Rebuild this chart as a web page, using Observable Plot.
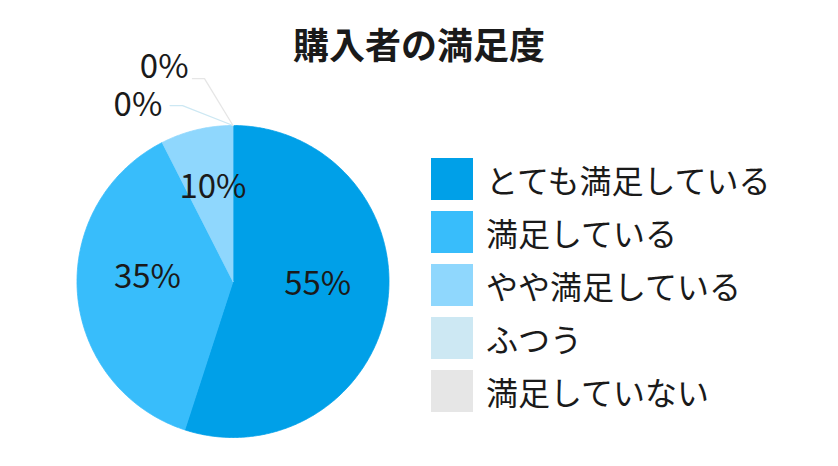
<!DOCTYPE html>
<html><head><meta charset="utf-8">
<script src="https://cdn.jsdelivr.net/npm/d3@7"></script>
<script src="https://cdn.jsdelivr.net/npm/@observablehq/plot@0.6"></script>
<style>
html,body{margin:0;padding:0;background:#fff;}
body{font-family:"Noto Sans CJK JP","Noto Sans",sans-serif;color:#1a1a1a;}
#wrap{position:relative;width:838px;height:466px;overflow:hidden;}
#chart{position:absolute;left:0;top:0;}
#title{position:absolute;left:0;width:838px;top:23px;height:40px;line-height:40px;text-align:center;font-size:36px;font-weight:bold;}
#legend{position:absolute;left:431px;top:158px;width:400px;}
#legend .lg-swatches{font-family:"Noto Sans CJK JP",sans-serif !important;font-size:32px !important;color:#1a1a1a !important;margin:0 !important;columns:1 !important;}
#legend .lg-swatch{display:flex !important;align-items:center !important;margin:0 0 11px 0 !important;padding:0 !important;height:42px;}
#legend .lg-swatch svg{margin-right:13px !important;flex-shrink:0;}
#legend .lg-label{line-height:42px;overflow:visible !important;}
</style></head>
<body><div id="wrap"><div id="chart"></div><div id="title"></div><div id="legend"></div></div>
<script>
const titleText = "購入者の満足度";
const categories = ["とても満足している","満足している","やや満足している","ふつう","満足していない"];
const values = [55, 37.5, 7.5, 0, 0];
const labels = ["55%","35%","10%","0%","0%"];
const colors = ["#00a0e8","#38bdfb","#8fd7fd","#cde8f3","#e6e6e6"];

document.getElementById("title").textContent = titleText;

const total = d3.sum(values);
let acc = 0;
const slices = values.map((v, i) => {
  const a0 = acc / total * 2 * Math.PI;
  acc += v;
  const a1 = acc / total * 2 * Math.PI;
  return {cat: categories[i], value: v, label: labels[i], a0, a1, mid: (a0 + a1) / 2};
});

// slice outlines (angles clockwise from 12 o'clock, unit circle)
const polyPts = slices.filter(s => s.value > 0).flatMap(s => {
  const n = Math.max(2, Math.ceil((s.a1 - s.a0) / (Math.PI / 360)));
  const pts = [{cat: s.cat, x: 0, y: 0}];
  for (let k = 0; k <= n; k++) {
    const a = s.a0 + (s.a1 - s.a0) * k / n;
    pts.push({cat: s.cat, x: Math.sin(a), y: Math.cos(a)});
  }
  pts.push({cat: s.cat, x: 0, y: 0});
  return pts;
});

const inner = slices.filter(s => s.value > 0).map(s => ({
  label: s.label, x: Math.sin(s.mid) * 0.55, y: Math.cos(s.mid) * 0.55
}));

// outer leader lines for empty slices, stacked upward
const zero = slices.filter(s => s.value === 0);
const deg = Math.PI / 180;
const leaderPts = [];
const outer = [];
zero.forEach((s, j) => {
  const ea = s.mid - (16 - 8 * j) * deg;
  const er = 1.173 + 0.14 * j;
  const ex = Math.sin(ea) * er, ey = Math.cos(ea) * er;
  const len = 0.08 - 0.003 * j;
  leaderPts.push({cat: s.cat, x: Math.sin(s.mid), y: Math.cos(s.mid)});
  leaderPts.push({cat: s.cat, x: ex, y: ey});
  leaderPts.push({cat: s.cat, x: ex - len, y: ey});
  outer.push({label: s.label, x: ex - len - 0.05 + 0.025 * j, y: ey + 0.075 * j});
});

const chart = Plot.plot({
  width: 838,
  height: 466,
  x: {domain: [-1, 1], range: [76.5, 388.5], axis: null},
  y: {domain: [-1, 1], range: [437, 125], axis: null},
  color: {type: "ordinal", domain: categories, range: colors},
  style: {fontFamily: "'Noto Sans CJK JP', sans-serif", color: "#1a1a1a", background: "transparent"},
  marks: [
    Plot.line(polyPts, {x: "x", y: "y", z: "cat", fill: "cat", stroke: "cat", strokeWidth: 0.8, curve: "linear"}),
    Plot.line(leaderPts, {x: "x", y: "y", z: "cat", stroke: "cat", strokeWidth: 1.3}),
    Plot.text(inner, {x: "x", y: "y", text: "label", fontSize: 33, lineAnchor: "bottom", fill: "#1a1a1a"}),
    Plot.text(outer, {x: "x", y: "y", text: "label", fontSize: 33, textAnchor: "end", lineAnchor: "middle", fill: "#1a1a1a"})
  ]
});
document.getElementById("chart").appendChild(chart);

const legend = Plot.legend({
  color: {type: "ordinal", domain: categories, range: colors},
  legend: "swatches",
  columns: 1,
  swatchSize: 42,
  className: "lg"
});
document.getElementById("legend").appendChild(legend);
</script>
</body></html>
